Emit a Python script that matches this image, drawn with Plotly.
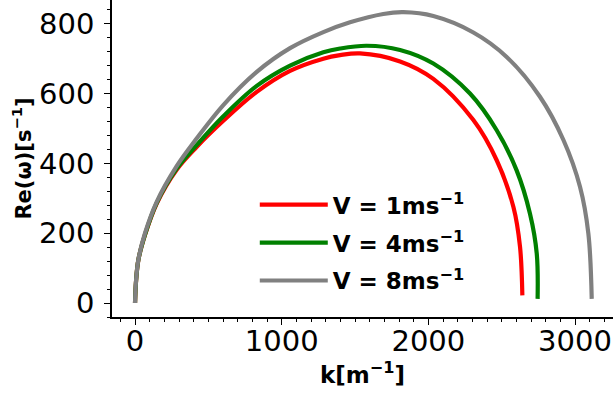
import plotly.graph_objects as go

# Data
k_red = [0, 7, 23, 68, 148, 284, 420, 602, 830, 1057, 1284, 1398, 1534, 1807, 2034, 2307, 2466, 2580, 2625, 2641]
w_red = [0, 63, 124, 195, 285, 382, 447, 522, 605, 665, 700, 710, 715, 692, 642, 524, 409, 275, 161, 22]

k_green = [0, 7, 23, 68, 148, 284, 420, 602, 830, 1057, 1284, 1398, 1580, 1807, 2034, 2284, 2466, 2602, 2693, 2739, 2745]
w_green = [0, 63, 124, 196, 287, 385, 452, 535, 622, 680, 718, 729, 737, 725, 686, 600, 495, 380, 256, 142, 12]

k_gray = [0, 7, 23, 68, 148, 284, 420, 602, 830, 1057, 1284, 1466, 1693, 1830, 2034, 2307, 2534, 2761, 2921, 3034, 3091, 3114]
w_gray = [0, 64, 125, 200, 290, 392, 471, 567, 662, 730, 776, 804, 828, 833, 822, 775, 705, 591, 467, 333, 199, 12]

labels = ["V = 1ms<sup>−1</sup>", "V = 4ms<sup>−1</sup>", "V = 8ms<sup>−1</sup>"]
colors = ["#ff0000", "#008000", "#808080"]

fig = go.Figure()
for i, (k, w, name, c) in enumerate(zip([k_red, k_green, k_gray], [w_red, w_green, w_gray], labels, colors)):
    fig.add_trace(go.Scatter(x=k, y=w, mode="lines", name=name, legendgroup=f"g{i}",
                             line=dict(color=c, width=4.2, shape="spline", smoothing=1.0)))

font_family = "DejaVu Sans"
fig.update_layout(
    width=613, height=395,
    margin=dict(l=112, r=0, t=0, b=78),
    paper_bgcolor="white", plot_bgcolor="white",
    font=dict(family=font_family, color="black"),
    showlegend=True,
    legend=dict(x=0.285, y=0.422, xanchor="left", yanchor="top",
                bgcolor="rgba(0,0,0,0)", borderwidth=0, itemwidth=68,
                font=dict(size=23, family=font_family, weight="bold", color="black"),
                tracegroupgap=5),
    annotations=[dict(text="k[m<sup>−1</sup>]", xref="paper", yref="paper",
                      x=0.5, y=-0.178, xanchor="center", yanchor="middle", showarrow=False,
                      font=dict(size=23, family=font_family, weight="bold", color="black"))],
)
fig.update_xaxes(
    range=[-157, 3259], showgrid=False, zeroline=False,
    showline=True, linecolor="black", linewidth=1.5,
    ticks="outside", ticklen=6, tickwidth=1.2, tickcolor="black",
    tickvals=[0, 1000, 2000, 3000], ticklabelstandoff=-9,
    tickfont=dict(size=29, family=font_family),
    minor=dict(dtick=100, tick0=0, ticks="outside", ticklen=3.5, tickwidth=1, tickcolor="black"),
)
fig.update_yaxes(
    range=[-40, 868], showgrid=False, zeroline=False,
    showline=True, linecolor="black", linewidth=1.5,
    ticks="outside", ticklen=6, tickwidth=1.2, tickcolor="black",
    tickvals=[0, 200, 400, 600, 800], ticklabelstandoff=4,
    tickfont=dict(size=29, family=font_family),
    minor=dict(dtick=40, tick0=0, ticks="outside", ticklen=3.5, tickwidth=1, tickcolor="black"),
    title=dict(text="Re(ω)[s<sup>−1</sup>]", font=dict(size=21, family=font_family, weight="bold"), standoff=2),
)

fig.write_html("out.html")
